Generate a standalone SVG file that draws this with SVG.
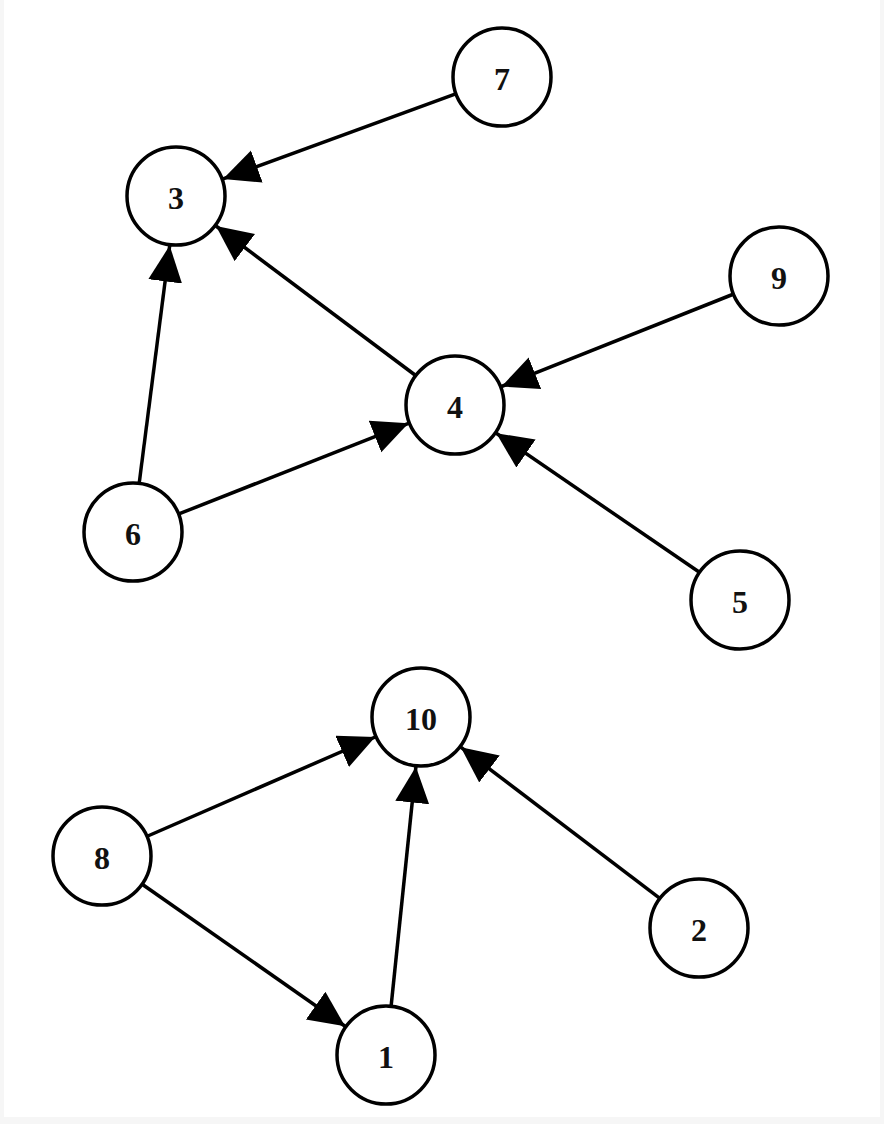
<svg xmlns="http://www.w3.org/2000/svg" width="884" height="1124" viewBox="0 0 884 1124">
<style>
.node circle{fill:#fff;stroke:#000;stroke-width:3.5}
.node text{font-family:"Liberation Serif","Times New Roman",serif;font-weight:bold;font-size:32px;text-anchor:middle;fill:#111}
.edges line{stroke:#000;stroke-width:3.5;marker-end:url(#arr)}
</style>
<defs>
<marker id="arr" markerUnits="userSpaceOnUse" markerWidth="40" markerHeight="40" refX="36" refY="17" orient="auto">
<path d="M0,0 L36,17 L0,34 z" fill="#000"/>
</marker>
</defs>
<rect x="0" y="0" width="884" height="1124" fill="#f6f6f6"/>
<rect x="4" y="0" width="876" height="1117" fill="#fff"/>
<g id="edges" class="edges">
<line x1="455.0" y1="94.1" x2="223.0" y2="178.9"/>
<line x1="415.0" y1="375.0" x2="216.0" y2="226.0"/>
<line x1="139.3" y1="482.4" x2="169.7" y2="245.6"/>
<line x1="732.5" y1="294.5" x2="501.5" y2="386.5"/>
<line x1="179.5" y1="513.7" x2="408.5" y2="423.3"/>
<line x1="698.7" y1="571.8" x2="496.3" y2="433.2"/>
<line x1="147.8" y1="836.0" x2="375.2" y2="737.0"/>
<line x1="391.2" y1="1005.3" x2="415.9" y2="766.7"/>
<line x1="659.2" y1="897.8" x2="460.8" y2="747.2"/>
<line x1="142.9" y1="884.7" x2="345.1" y2="1026.3"/>
</g>
<g id="node7" class="node"><circle cx="502" cy="77" r="49"/><text x="502" y="90">7</text></g>
<g id="node3" class="node"><circle cx="176" cy="196" r="49"/><text x="176" y="209">3</text></g>
<g id="node9" class="node"><circle cx="779" cy="276" r="49"/><text x="779" y="289">9</text></g>
<g id="node4" class="node"><circle cx="455" cy="405" r="49"/><text x="455" y="418">4</text></g>
<g id="node6" class="node"><circle cx="133" cy="532" r="49"/><text x="133" y="545">6</text></g>
<g id="node5" class="node"><circle cx="740" cy="600" r="49"/><text x="740" y="613">5</text></g>
<g id="node10" class="node"><circle cx="421" cy="717" r="49"/><text x="421" y="730">10</text></g>
<g id="node8" class="node"><circle cx="102" cy="856" r="49"/><text x="102" y="869">8</text></g>
<g id="node2" class="node"><circle cx="699" cy="928" r="49"/><text x="699" y="941">2</text></g>
<g id="node1" class="node"><circle cx="386" cy="1055" r="49"/><text x="386" y="1068">1</text></g>
</svg>
